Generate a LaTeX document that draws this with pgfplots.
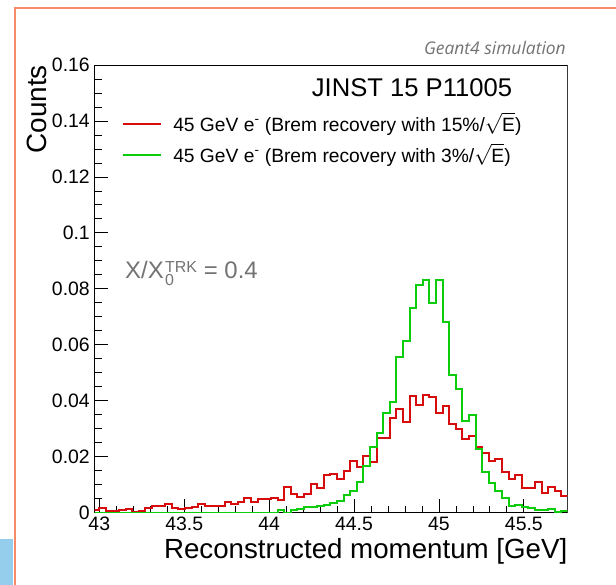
\documentclass[border=0pt]{standalone}
\usepackage{pgfplots}
\usepackage{pgfplotstable}
\pgfplotsset{compat=1.18}
\usepackage{fontspec}
\setmainfont{Liberation Sans}
\newfontfamily\geantfont{Open Sans}

\definecolor{histred}{RGB}{215,12,12}
\definecolor{histgreen}{RGB}{12,205,12}
\definecolor{slideorange}{RGB}{245,140,105}
\definecolor{slideblue}{RGB}{148,206,236}
\definecolor{notegray}{RGB}{115,115,115}

% left bin edge, red (15%/sqrt(E)), green (3%/sqrt(E))
\pgfplotstableread{
x       red     green
42.9611 0.0010  0
43.0000 0.0018  0
43.0389 0.0006  0
43.0777 0.0006  0
43.1166 0.0010  0
43.1555 0.0013  0
43.1944 0.0004  0
43.2332 0.0007  0
43.2721 0.0018  0
43.3110 0.0024  0
43.3498 0.0024  0
43.3887 0.0031  0
43.4276 0.0018  0
43.4664 0.0012  0
43.5053 0.0018  0
43.5442 0.0021  0
43.5831 0.0031  0
43.6219 0.0025  0
43.6608 0.0025  0
43.6997 0.0025  0
43.7385 0.0039  0
43.7774 0.0031  0
43.8163 0.0037  0
43.8551 0.0054  0
43.8940 0.0039  0
43.9329 0.0048  0
43.9718 0.0050  0
44.0106 0.0053  0
44.0495 0.0044  0.0010
44.0884 0.0093  0
44.1272 0.0068  0.0010
44.1661 0.0057  0.0012
44.2050 0.0067  0.0019
44.2438 0.0101  0.0021
44.2827 0.0090  0.0024
44.3216 0.0135  0.0027
44.3605 0.0139  0.0036
44.3993 0.0120  0.0043
44.4382 0.0150  0.0063
44.4771 0.0185  0.0077
44.5159 0.0162  0.0111
44.5548 0.0203  0.0167
44.5937 0.0182  0.0236
44.6325 0.0266  0.0286
44.6714 0.0268  0.0357
44.7103 0.0340  0.0396
44.7492 0.0369  0.0557
44.7880 0.0324  0.0613
44.8269 0.0417  0.0730
44.8658 0.0385  0.0813
44.9046 0.0420  0.0831
44.9435 0.0414  0.0750
44.9824 0.0356  0.0831
45.0212 0.0380  0.0682
45.0601 0.0317  0.0492
45.0990 0.0298  0.0442
45.1379 0.0262  0.0329
45.1767 0.0275  0.0349
45.2156 0.0236  0.0226
45.2545 0.0212  0.0146
45.2933 0.0186  0.0107
45.3322 0.0191  0.0079
45.3711 0.0146  0.0051
45.4099 0.0119  0.0024
45.4488 0.0135  0.0028
45.4877 0.0087  0.0019
45.5266 0.0089  0.0016
45.5654 0.0111  0.0010
45.6043 0.0071  0.0010
45.6432 0.0093  0.0012
45.6820 0.0079  0.0004
45.7209 0.0060  0.0007
45.7598 0.0060  0.0007
}\histdata

\begin{document}
\begin{tikzpicture}[x=1bp,y=1bp]
\useasboundingbox (0,0) rectangle (616,585);
\fill[white] (0,0) rectangle (616,585);
% slide frame around the figure
\fill[slideblue] (0,0) rectangle (13.4,46);
\draw[slideorange, line width=1.5bp] (14.8,-1) -- (14.8,576.8) -- (617,576.8);

\begin{axis}[
  at={(94.5bp,72.3bp)}, anchor=south west,
  scale only axis, width=473bp, height=447.7bp,
  xmin=42.972, xmax=45.757, ymin=0, ymax=0.16,
  axis line style={line width=0.9bp},
  tick align=inside, xtick pos=bottom, ytick pos=left,
  major tick length=13.5bp, minor tick length=7bp,
  every tick/.style={black, line width=0.8bp},
  xtick={43,43.5,44,44.5,45,45.5},
  xticklabels={43,43.5,44,44.5,45,45.5},
  minor x tick num=4,
  ytick={0,0.02,0.04,0.06,0.08,0.1,0.12,0.14,0.16},
  yticklabels={0,0.02,0.04,0.06,0.08,0.1,0.12,0.14,0.16},
  minor y tick num=3,
  scaled y ticks=false,
  tick label style={font=\fontsize{19.5}{19.5}\selectfont},
  xticklabel style={anchor=north, inner sep=0pt, yshift=-4bp},
  yticklabel style={anchor=east, inner sep=0pt, xshift=-4.5bp},
  xlabel={Reconstructed momentum [GeV]},
  ylabel={Counts},
  every axis x label/.style={at={(axis description cs:1,0)}, anchor=base east,
    yshift=-45.3bp, inner sep=0pt, font=\fontsize{27.8}{27.8}\selectfont},
  every axis y label/.style={at={(axis description cs:-0.101,1)}, rotate=90,
    anchor=base east, inner sep=0pt, font=\fontsize{28}{28}\selectfont},
  legend cell align=left,
  legend style={at={(axis description cs:0.0581,0.8838)}, anchor=north west,
    draw=none, fill=none, inner sep=0pt, outer sep=0pt,
    row sep=12bp, column sep=12bp, font=\fontsize{19.3}{19.3}\selectfont,
    nodes={inner sep=0pt, text height=14bp, text depth=5bp}},
  legend image code/.code={\draw[#1, line width=1.3bp] (0bp,2.5bp) -- (38bp,2.5bp);},
]
\addplot[const plot, histred, line width=2bp] table[x=x, y=red] {\histdata};
\addlegendentry{45 GeV e\textsuperscript{-} (Brem recovery with 15\%/\ensuremath{\sqrt{\mbox{E}}})}
\addplot[const plot, histgreen, line width=2bp] table[x=x, y=green] {\histdata};
\addlegendentry{45 GeV e\textsuperscript{-} (Brem recovery with 3\%/\ensuremath{\sqrt{\mbox{E}}})}
\draw[gray!70!black, line width=1.2bp] (rel axis cs:1,0) -- (rel axis cs:1,1);
\end{axis}

\node[anchor=base west, inner sep=0pt, font=\fontsize{25.7}{25.7}\selectfont]
  at (311.7,488.3) {JINST 15 P11005};
\node[anchor=base east, inner sep=0pt, text=notegray,
  font=\geantfont\itshape\fontsize{17.5}{17.5}\selectfont]
  at (566,530) {Geant4 simulation};
\node[anchor=base west, inner sep=0pt, text=notegray, font=\fontsize{24}{24}\selectfont]
  at (125,306) {X/X\kern1.5bp\makebox[0pt][l]{\raisebox{6bp}{\fontsize{16}{16}\selectfont TRK}}\makebox[0pt][l]{\raisebox{-7bp}{\fontsize{16}{16}\selectfont 0}}\hspace{32bp} = 0.4};
\end{tikzpicture}
\end{document}
